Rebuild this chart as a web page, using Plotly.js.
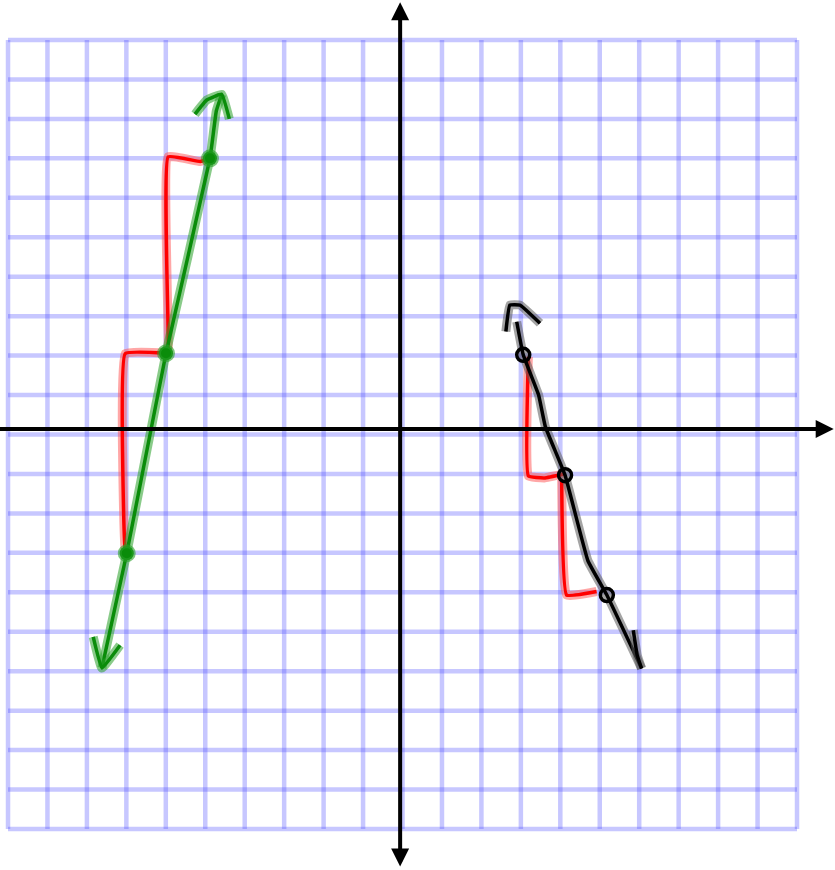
<!DOCTYPE html>
<html><head><meta charset="utf-8">
<script src="https://cdn.plot.ly/plotly-3.0.1.min.js"></script>
<style>html,body{margin:0;padding:0;background:#fff;}#chart{width:835px;height:870px;}</style>
</head><body><div id="chart"></div>
<script>
// grid ticks
var gridTicks = [-10,-9,-8,-7,-6,-5,-4,-3,-2,-1,0,1,2,3,4,5,6,7,8,9,10];

// green line y = 5x + 32 (hand drawn)
var greenX = [-7.62,-6.99,-5.995,-4.88,-4.72,-4.583];
var greenY = [-5.92,-3.01,2.06,7.0,8.2,8.624];
var greenHeadX = [-7.84,-7.62,-7.16];
var greenHeadY = [-5.13,-5.92,-5.34];
var greenTopHeadX = [-5.26,-4.963,-4.583,-4.39];
var greenTopHeadY = [8.12,8.479,8.624,8.00];
var greenDotX = [-4.88,-5.995,-6.99];
var greenDotY = [7.0,2.06,-3.01];

// red steps for green
var redAX = [-6.99,-7.03,-7.03,-5.995];
var redAY = [-3.01,-2.9,2.05,2.06];
var redBX = [-5.995,-5.94,-5.94,-5.13,-4.88];
var redBY = [2.06,2.2,7.04,6.92,7.0];

// black line y = -3x + 11 (hand drawn)
var blackX = [2.895,3.06,3.45,3.62,4.12,4.7,5.18,6.06];
var blackY = [2.859,2.02,1.0,0.2,-1.03,-3.2,-4.07,-5.93];
var blackTopHeadX = [2.62,2.72,2.98,3.485];
var blackTopHeadY = [2.61,3.28,3.28,2.82];
var blackBotHeadX = [5.85,5.95,6.06];
var blackBotHeadY = [-4.96,-5.6,-5.93];
var blackDotX = [3.06,4.12,5.18];
var blackDotY = [2.02,-1.03,-4.07];

// red steps for black
var redCX = [3.19,3.19,3.6,4.08];
var redCY = [1.97,-1.05,-1.1,-1.0];
var redDX = [4.035,4.16,4.92];
var redDY = [-1.15,-4.07,-3.98];

var gxV=[],gyV=[],gxH=[],gyH=[];
gridTicks.forEach(function(t){
  gxV.push(t,t,null); gyV.push(-10,10,null);
  gxH.push(-10,10,null); gyH.push(t,t,null);
});
var gridColor='rgba(70,70,255,0.3)';
var traces=[
  {x:gxV,y:gyV,mode:'lines',line:{color:gridColor,width:4.5},hoverinfo:'skip'},
  {x:gxH,y:gyH,mode:'lines',line:{color:gridColor,width:4.5},hoverinfo:'skip'}
];
function stroke(xs,ys,halo,core,hw,cw){
  traces.push({x:xs,y:ys,mode:'lines',line:{color:halo,width:hw,shape:'spline',smoothing:0.3},hoverinfo:'skip'});
  traces.push({x:xs,y:ys,mode:'lines',line:{color:core,width:cw,shape:'spline',smoothing:0.3},hoverinfo:'skip'});
}
var gHalo='rgba(40,160,40,0.55)', gCore='#0a8c0a';
var rHalo='rgba(255,80,80,0.5)', rCore='#ff0000';
var kHalo='rgba(90,90,90,0.55)', kCore='#000000';
stroke(redAX,redAY,rHalo,rCore,9,3.5);
stroke(redBX,redBY,rHalo,rCore,9,3.5);
stroke(redCX,redCY,rHalo,rCore,9,3.5);
stroke(redDX,redDY,rHalo,rCore,9,3.5);
stroke(greenX,greenY,gHalo,gCore,9,3.5);
stroke(greenHeadX,greenHeadY,gHalo,gCore,9,3.5);
stroke(greenTopHeadX,greenTopHeadY,gHalo,gCore,9,3.5);
stroke(blackX,blackY,kHalo,kCore,9,3.5);
stroke(blackTopHeadX,blackTopHeadY,kHalo,kCore,9,3.5);
stroke(blackBotHeadX,blackBotHeadY,kHalo,kCore,9,3.5);
traces.push({x:greenDotX,y:greenDotY,mode:'markers',marker:{color:'#0a8c0a',size:14,line:{color:'rgba(40,160,40,0.6)',width:4}},hoverinfo:'skip'});
traces.push({x:blackDotX,y:blackDotY,mode:'markers',marker:{symbol:'circle-open',color:'#000',size:13,line:{color:'#000',width:3.5}},hoverinfo:'skip'});

var axX=[-10.25,10.93], axY=[0.14,0.14];
var ayX=[-0.06,-0.06], ayY=[-10.99,10.96];
var layout={
  width:835,height:870,margin:{l:0,r:0,t:0,b:0},
  paper_bgcolor:'#fff',plot_bgcolor:'#fff',showlegend:false,
  xaxis:{range:[-10.203,10.963],showgrid:false,zeroline:false,showticklabels:false,showline:false,ticks:'',fixedrange:true},
  yaxis:{range:[-11.039,11.014],showgrid:false,zeroline:false,showticklabels:false,showline:false,ticks:'',fixedrange:true},
  annotations:[
    {x:axX[1],y:axY[1],ax:axX[0],ay:axY[0],xref:'x',yref:'y',axref:'x',ayref:'y',text:'',showarrow:true,arrowhead:2,arrowsize:0.9,arrowwidth:4,arrowcolor:'#000'},
    {x:ayX[1],y:ayY[1],ax:ayX[0],ay:ayY[0],xref:'x',yref:'y',axref:'x',ayref:'y',text:'',showarrow:true,arrowhead:2,startarrowhead:2,arrowside:'end+start',arrowsize:0.9,startarrowsize:0.9,arrowwidth:4,arrowcolor:'#000'}
  ]
};
Plotly.newPlot('chart',traces,layout,{displayModeBar:false,staticPlot:true});
</script></body></html>
